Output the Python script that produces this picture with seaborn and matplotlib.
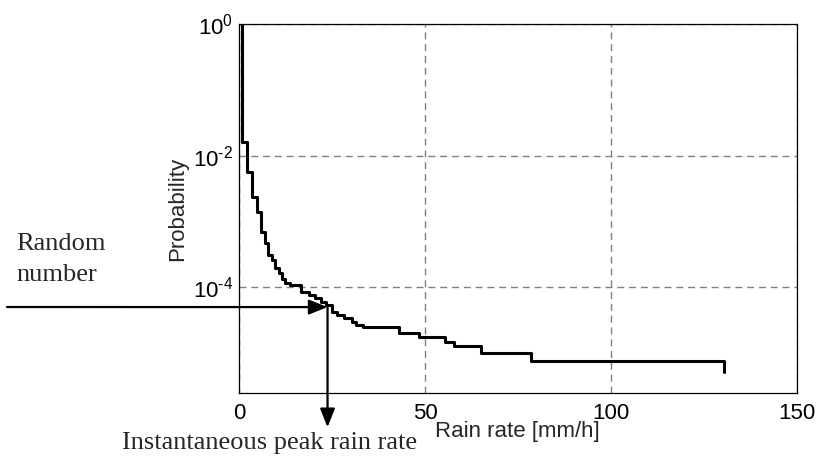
import numpy as np
import pandas as pd
import matplotlib
matplotlib.use("Agg")
import matplotlib.pyplot as plt
import seaborn as sns

# Step curve: rain rate [mm/h] where probability drops, and the new probability
rain_rate = [0.73, 0.73, 2.16, 3.51, 4.78, 5.95, 7.03, 7.92, 9.0, 9.73, 10.62,
             11.54, 12.43, 13.78, 16.76, 18.73, 20.54, 22.08, 23.51, 25.05,
             26.41, 28.19, 30.46, 31.35, 33.24, 43.11, 48.38, 55.41, 57.76,
             65.14, 78.38, 130.46]
probability = [1.0, 1.62e-2, 5.67e-3, 2.36e-3, 1.40e-3, 6.87e-4, 4.62e-4,
               3.07e-4, 2.58e-4, 1.92e-4, 1.61e-4, 1.35e-4, 1.16e-4, 1.08e-4,
               8.49e-5, 7.56e-5, 6.92e-5, 5.97e-5, 5.32e-5, 4.21e-5, 3.75e-5,
               3.34e-5, 2.97e-5, 2.64e-5, 2.51e-5, 2.02e-5, 1.75e-5, 1.47e-5,
               1.27e-5, 1.01e-5, 7.49e-6, 5.15e-6]

random_number = 4.97e-5
peak_rate = 23.8

x_ticks = [0, 50, 100, 150]
y_ticks = [1e0, 1e-2, 1e-4]
y_tick_labels = ["$10^{0}$", "$10^{\u20102}$", "$10^{\u20104}$"]

df = pd.DataFrame({"Rain rate": rain_rate, "Probability": probability})

sns.set_style("white")
plt.rcParams["font.family"] = ["Liberation Sans", "DejaVu Sans"]
plt.rcParams["mathtext.fontset"] = "custom"
plt.rcParams["mathtext.rm"] = "Liberation Sans"
plt.rcParams["mathtext.it"] = "Liberation Sans:italic"
plt.rcParams["mathtext.default"] = "regular"

fig = plt.figure(figsize=(8.16, 4.59), dpi=100)
ax = fig.add_axes([239/816, 1-393/459, (797-239)/816, (393-24)/459])
ax.set_yscale("log")

sns.lineplot(data=df, x="Rain rate", y="Probability", ax=ax, sort=False,
             estimator=None, drawstyle="steps-post", color="black",
             linewidth=2.2)

ax.set_xlim(0, 150)
ax.set_ylim(10**-5.61, 1)
ax.set_xticks(x_ticks)
ax.set_xticklabels([str(t) for t in x_ticks])
ax.set_yticks(y_ticks)
ax.set_yticklabels(y_tick_labels)
ax.yaxis.set_minor_locator(matplotlib.ticker.NullLocator())
ax.tick_params(axis="both", length=0, labelsize=16, colors="black")
ax.tick_params(axis="x", pad=7)
ax.tick_params(axis="y", pad=4)

ax.grid(True, which="major", color="#808080", linestyle=(0, (5, 3.5)),
        linewidth=1.0)
for s in ax.spines.values():
    s.set_color("black")
    s.set_linewidth(0.9)
    s.set_visible(True)

ax.set_xlabel("Rain rate [mm/h]", fontsize=16)
ax.xaxis.set_label_coords((517 - 239) / (797 - 239), -0.075)
ax.set_ylabel("Probability", fontsize=16)
ax.yaxis.set_label_coords(-(239 - 188) / (797 - 239), 0.5)

arrow_kw = dict(arrowstyle="-|>,head_length=0.75,head_width=0.3",
                color="black", linewidth=1.6, mutation_scale=15,
                shrinkA=0, shrinkB=0)
ax.annotate("", xy=(peak_rate, random_number), xycoords="data",
            xytext=(7/816, 1-307/459), textcoords="figure fraction",
            arrowprops=arrow_kw, annotation_clip=False)
ax.annotate("", xy=(peak_rate, 10**-6.13), xycoords="data",
            xytext=(peak_rate, random_number), textcoords="data",
            arrowprops=arrow_kw, annotation_clip=False)

serif = ["Liberation Serif", "DejaVu Serif"]
fig.text(16/816, 1-250/459, "Random", family=serif, fontsize=19,
         va="baseline", ha="left")
fig.text(16/816, 1-281/459, "number", family=serif, fontsize=19,
         va="baseline", ha="left")
fig.text(122/816, 1-449/459, "Instantaneous peak rain rate", family=serif,
         fontsize=19, va="baseline", ha="left")

fig.savefig("out.png", dpi=100)
